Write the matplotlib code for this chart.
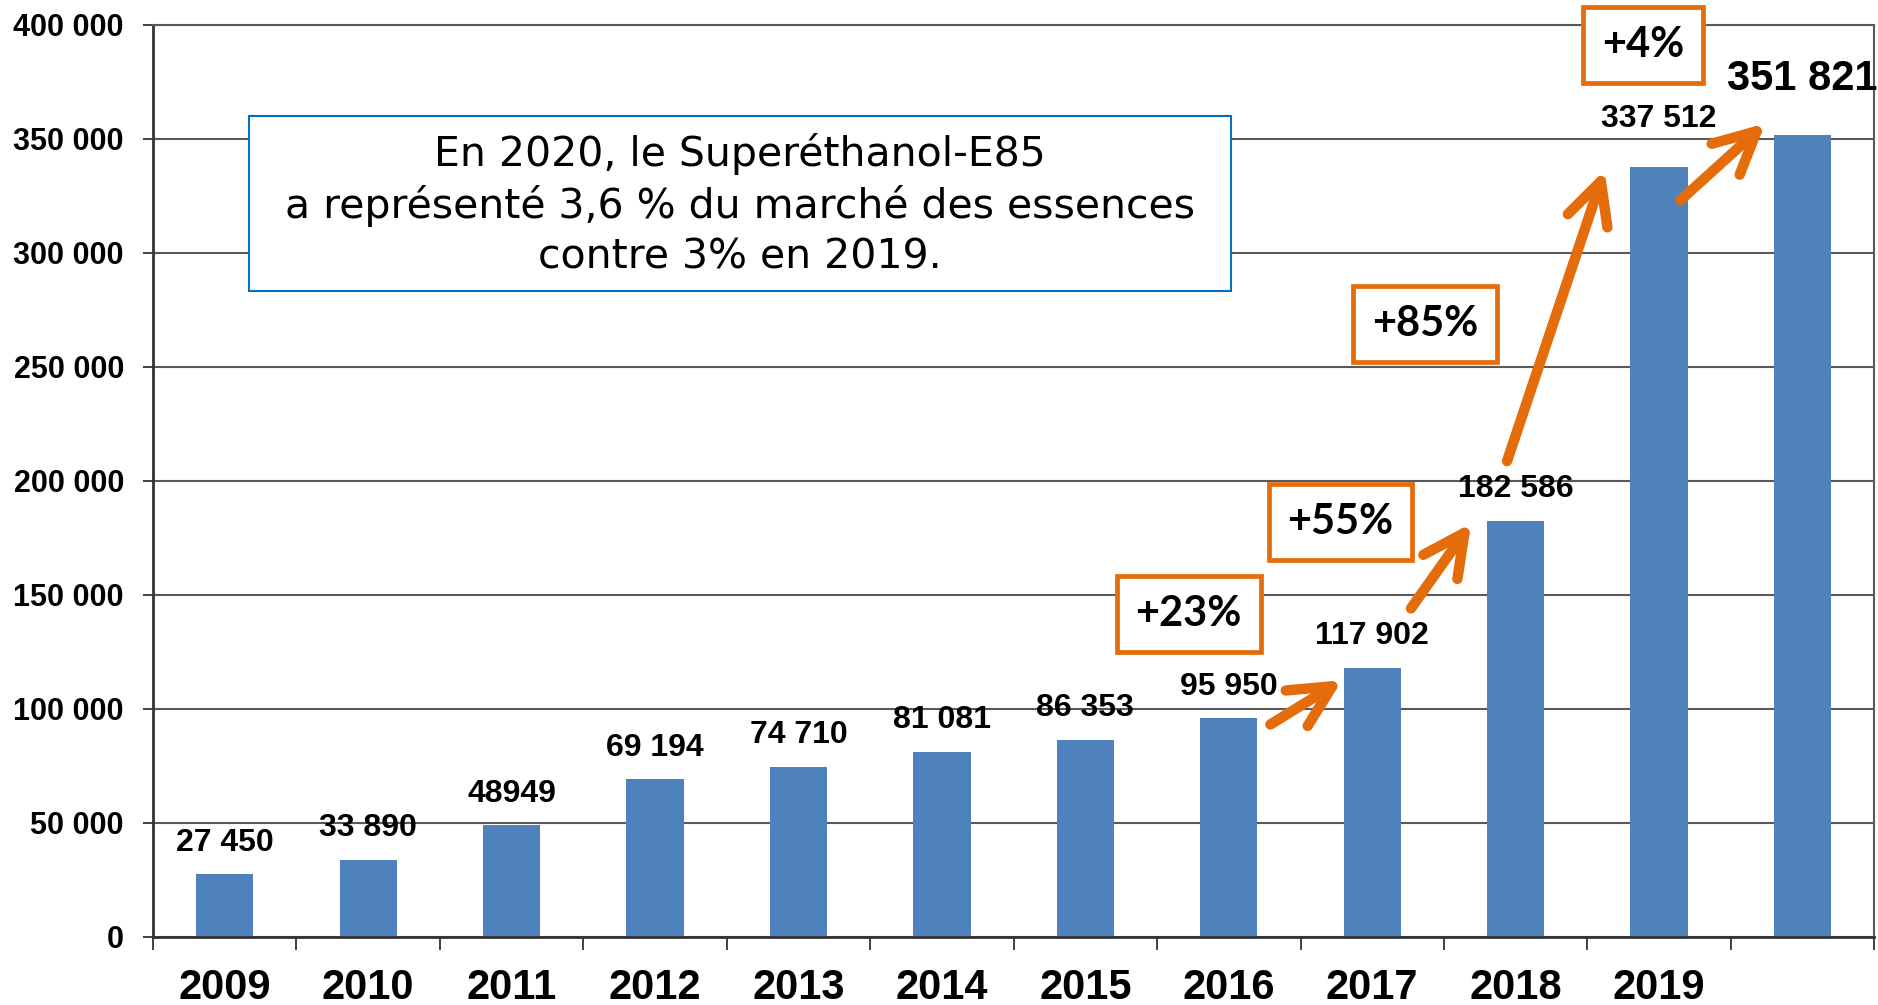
import matplotlib
matplotlib.use('Agg')
import matplotlib.pyplot as plt
from matplotlib.patches import Rectangle
from matplotlib.ticker import FuncFormatter, MultipleLocator, FixedLocator

years = ['2009', '2010', '2011', '2012', '2013', '2014', '2015', '2016', '2017', '2018', '2019', '']
volumes = [27450, 33890, 48949, 69194, 74710, 81081, 86353, 95950, 117902, 182586, 337512, 351821]
value_labels = ['27 450', '33 890', '48949', '69 194', '74 710', '81 081', '86 353',
                '95 950', '117 902', '182 586', '337 512', '351 821']
growth_labels = ['+23%', '+55%', '+85%', '+4%']
note = "En 2020, le Superéthanol-E85\na représenté 3,6 % du marché des essences\ncontre 3% en 2019."

blue = '#4F81BD'
orange = '#E46C0A'
grid_col = '#595959'

fig = plt.figure(figsize=(18.78, 10.05), dpi=100)
ax = fig.add_axes([0.0815, 0.0677, 0.9165, 0.9075])

x = list(range(len(years)))
ax.bar(x, volumes, width=0.4, color=blue, zorder=2)
ax.set_xlim(-0.5, len(years) - 0.5)
ax.set_ylim(0, 400000)

ax.yaxis.set_major_locator(MultipleLocator(50000))
ax.yaxis.set_major_formatter(FuncFormatter(lambda v, p: f'{int(v):,}'.replace(',', ' ')))
ax.grid(axis='y', color=grid_col, lw=1.5, zorder=0)
ax.set_axisbelow(True)

ax.set_xticks(x)
ax.set_xticklabels(years, fontsize=30, fontweight='bold', family='Liberation Sans')
ax.xaxis.set_minor_locator(FixedLocator([i - 0.5 for i in range(len(years) + 1)]))
ax.tick_params(axis='x', which='major', length=0, pad=22)
ax.tick_params(axis='x', which='minor', length=9, width=1.3, color='#333333')
ax.tick_params(axis='y', length=7, width=1.3, color='#333333', pad=14)
for lbl in ax.get_yticklabels():
    lbl.set_fontsize(22)
    lbl.set_fontweight('bold')
    lbl.set_family('Liberation Sans')

ax.spines['left'].set_color('#333333')
ax.spines['left'].set_linewidth(2)
ax.spines['bottom'].set_color('#333333')
ax.spines['bottom'].set_linewidth(2)
ax.spines['top'].set_color(grid_col)
ax.spines['top'].set_linewidth(1.5)
ax.spines['right'].set_color(grid_col)
ax.spines['right'].set_linewidth(1.5)

# value labels above bars
for i, (v, s) in enumerate(zip(volumes, value_labels)):
    size, off = 23, 12
    if i == 10:
        off = 24
    if i == 11:
        size, off = 30, 26
    ax.annotate(s, xy=(i, v), xytext=(0, off), textcoords='offset points',
                ha='center', va='bottom', fontsize=size, fontweight='bold',
                family='Liberation Sans', zorder=5)

# growth arrows
arrows = [((7.29, 93200), (7.79, 112600)),
          ((8.27, 144100), (8.69, 181400)),
          ((8.94, 208700), (9.62, 336300)),
          ((10.15, 323200), (10.74, 356800))]
for tail, head in arrows:
    ax.annotate('', xy=head, xytext=tail,
                arrowprops=dict(arrowstyle='->, head_length=1.0, head_width=0.5',
                                color=orange, lw=7.5, mutation_scale=30,
                                shrinkA=0, shrinkB=0, capstyle='round', joinstyle='round'),
                zorder=6, annotation_clip=False)

# growth boxes
box_pos = [(6.72, 141700), (7.78, 182000), (8.37, 268900), (9.89, 391200)]
for (bx, by), g in zip(box_pos, growth_labels):
    ax.text(bx, by, g, ha='center', va='center', fontsize=30, fontweight='bold',
            family='Lato', zorder=7, clip_on=False,
            bbox=dict(boxstyle='square,pad=0.45', fc='white', ec=orange, lw=3.4))

# note box
ax.add_patch(Rectangle((0.0558, 0.7083), 0.5706, 0.1919, transform=ax.transAxes,
                       fc='white', ec='#0070C0', lw=1.5, zorder=4))
ax.text(0.341, 0.8026, note, transform=ax.transAxes, ha='center', va='center',
        fontsize=29.5, family='DejaVu Sans', linespacing=1.32, zorder=5)

fig.savefig('out.png', dpi=100)
